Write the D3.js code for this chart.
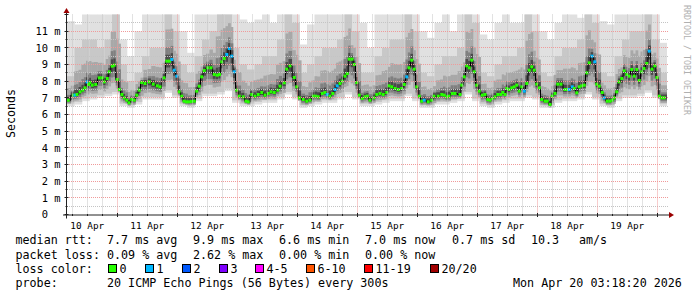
<!DOCTYPE html>
<html>
<head>
<meta charset="utf-8">
<script src="https://cdn.jsdelivr.net/npm/d3@7"></script>
<style>
    html, body { margin: 0; padding: 0; background: #fff; }
    svg { display: block; }
    text { font-family: "DejaVu Sans Mono", monospace; fill: #000; }
</style>
</head>
<body>
<div id="chart"></div>
<script>
/* data */

// median rtt samples: hours since start, ms, lost pings (of 20)
var medHours = [
    0.5, 2.5, 3.2, 4.0, 5.2, 6.3, 7.2, 8.0, 8.6, 9.2, 10.1, 11.5, 12.9, 14.1, 14.9, 16.1, 16.9, 18.1, 18.9, 20.1,
    20.9, 22.0, 22.9, 23.9, 24.8, 25.9, 26.9, 27.9, 28.9, 29.9, 31.2, 32.9, 34.5, 36.1, 37.2, 38.8, 39.9, 41.0, 41.9, 42.9,
    43.9, 44.8, 45.9, 46.8, 47.8, 48.8, 49.8, 50.9, 51.9, 52.9, 53.9, 54.9, 56.3, 57.6, 58.9, 60.1, 61.0, 61.9, 62.9, 63.9,
    64.9, 65.9, 66.9, 67.9, 68.9, 70.5, 71.6, 72.5, 73.9, 75.2, 76.5, 77.9, 79.2, 80.5, 81.6, 82.9, 84.3, 85.2, 86.9, 87.9,
    89.2, 90.9, 91.9, 92.9, 94.5, 95.9, 97.2, 98.5, 99.5, 100.5, 102.1, 103.2, 104.1, 105.2, 106.3, 107.2, 108.1, 109.2, 110.1, 111.2,
    112.1, 112.9, 114.0, 114.9, 115.9, 116.9, 118.1, 119.2, 120.1, 121.2, 122.8, 123.9, 125.2, 126.5, 127.9, 128.8, 129.9, 131.2, 132.5, 133.9,
    134.9, 135.9, 136.8, 137.9, 138.9, 139.9, 140.9, 141.9, 142.9, 144.5, 145.9, 146.8, 148.5, 149.9, 150.9, 151.9, 152.8, 154.1, 155.2, 157.2,
    157.9, 158.9, 159.9, 160.9, 161.9, 162.9, 163.9, 164.9, 166.1, 167.2, 168.3, 169.2, 170.1, 171.2, 172.3, 173.5, 174.3, 175.2, 175.9, 176.8,
    177.9, 178.9, 179.9, 180.9, 181.9, 182.9, 183.9, 184.9, 185.9, 186.9, 187.9, 188.9, 189.9, 191.2, 192.1, 193.2, 194.1, 195.2, 196.3, 197.6,
    199.2, 200.1, 200.9, 202.1, 202.9, 203.9, 204.9, 205.9, 206.9, 207.9, 208.9, 210.0, 211.1, 211.9, 212.9, 214.1, 214.9, 216.1, 217.2, 218.1,
    218.9, 219.9, 220.8, 221.9, 222.9, 223.9, 224.9, 225.9, 226.9, 227.9, 228.9, 229.9, 230.8, 231.9, 232.9, 234.0, 235.1, 236.0, 236.9, 237.9,
    238.9
];
var medRtt = [
    6.86, 7.16, 7.16, 7.20, 7.36, 7.46, 7.60, 7.95, 7.80, 7.92, 7.76, 7.80, 8.20, 8.20, 7.96, 8.16, 8.56, 8.90, 8.96, 8.10,
    7.50, 7.20, 7.00, 6.86, 6.70, 6.90, 6.86, 7.16, 7.46, 7.92, 7.86, 7.96, 7.82, 7.72, 7.66, 8.20, 9.20, 9.20, 9.30, 8.66,
    8.30, 7.36, 7.10, 6.80, 6.76, 6.76, 6.78, 6.80, 7.40, 7.70, 8.26, 8.64, 8.80, 8.80, 8.40, 8.36, 8.40, 9.16, 9.36, 9.60,
    9.96, 9.50, 8.56, 7.46, 7.10, 7.06, 6.80, 6.76, 7.20, 7.10, 7.20, 7.32, 7.16, 7.26, 7.36, 7.32, 7.46, 7.70, 7.90, 8.72,
    8.92, 8.22, 7.66, 7.00, 6.90, 6.80, 6.86, 7.10, 7.10, 7.06, 7.26, 7.32, 7.20, 7.10, 7.26, 7.50, 7.72, 7.86, 8.00, 8.30,
    8.46, 9.32, 9.32, 9.00, 7.92, 7.16, 6.96, 7.06, 7.10, 6.86, 7.00, 7.20, 7.26, 7.20, 7.32, 7.72, 7.66, 7.56, 7.50, 7.56,
    7.80, 8.26, 8.80, 9.26, 8.72, 7.66, 7.10, 6.80, 6.86, 6.76, 6.86, 7.10, 7.10, 7.20, 7.16, 7.06, 7.10, 7.26, 7.26, 7.20,
    7.76, 8.26, 8.92, 8.80, 9.26, 8.56, 7.76, 7.40, 7.16, 7.20, 6.90, 6.86, 6.96, 7.06, 7.20, 7.20, 7.32, 7.20, 7.56, 7.50,
    7.60, 7.66, 7.76, 7.40, 7.66, 7.40, 7.86, 8.66, 8.86, 8.66, 7.82, 7.60, 6.90, 6.80, 6.80, 6.60, 7.10, 7.26, 7.82, 7.82,
    7.50, 7.50, 7.50, 7.66, 7.56, 7.30, 7.66, 7.72, 7.76, 8.50, 9.10, 9.50, 9.16, 7.82, 7.70, 7.32, 7.00, 6.80, 6.80, 6.86,
    7.00, 7.36, 7.96, 8.16, 8.62, 8.40, 8.30, 8.70, 8.30, 8.70, 8.04, 8.56, 8.76, 9.06, 9.80, 8.72, 8.92, 8.22, 7.10, 7.00,
    7.00
];
var medLoss = [
    0, 0, 1, 0, 0, 0, 0, 1, 0, 0, 0, 0, 0, 0, 0, 0, 0, 0, 0, 0,
    0, 0, 0, 0, 0, 0, 0, 0, 0, 0, 0, 0, 0, 0, 0, 0, 0, 0, 1, 1,
    1, 0, 0, 0, 0, 0, 0, 0, 0, 0, 0, 0, 0, 0, 0, 0, 0, 0, 0, 1,
    1, 1, 1, 0, 0, 0, 0, 0, 0, 0, 0, 0, 0, 0, 0, 0, 0, 0, 0, 0,
    0, 0, 0, 0, 0, 0, 0, 0, 0, 0, 0, 0, 1, 0, 0, 1, 1, 0, 0, 0,
    0, 0, 0, 0, 0, 0, 0, 0, 0, 0, 0, 0, 0, 0, 0, 0, 0, 0, 0, 0,
    0, 1, 0, 0, 0, 0, 0, 0, 1, 0, 0, 0, 0, 0, 0, 0, 0, 0, 0, 0,
    0, 0, 0, 0, 0, 0, 0, 0, 0, 0, 0, 0, 0, 0, 0, 0, 0, 0, 0, 0,
    0, 0, 0, 0, 0, 1, 0, 0, 0, 0, 0, 0, 0, 0, 0, 0, 0, 0, 0, 0,
    0, 0, 1, 1, 0, 0, 0, 0, 0, 0, 0, 1, 1, 0, 0, 0, 1, 0, 0, 0,
    0, 0, 0, 0, 0, 0, 0, 0, 0, 0, 0, 0, 0, 0, 1, 0, 0, 0, 0, 0,
    0
];

// smoke per 3 hour column (ms): lowest ping, upper edge of the darker smoke, highest ping
var smokeMin = [
    6.5, 6.6, 6.8, 6.9, 7.0, 7.1, 7.2, 6.5, 6.4, 6.6, 6.9, 6.9, 6.9, 7.3, 7.0, 6.5, 6.4, 6.8, 7.1, 7.1,
    7.2, 7.4, 6.7, 6.5, 6.5, 6.6, 6.7, 6.7, 6.9, 7.2, 6.9, 6.4, 6.5, 6.6, 6.7, 6.7, 6.9, 7.2, 6.9, 6.5,
    6.5, 6.6, 6.7, 6.8, 6.8, 7.1, 6.8, 6.4, 6.4, 6.6, 6.6, 6.7, 6.8, 7.2, 6.8, 6.5, 6.4, 6.6, 6.7, 6.8,
    6.8, 7.0, 6.9, 6.4, 6.4, 6.7, 6.8, 6.8, 6.9, 7.2, 6.9, 6.5, 6.4, 6.8, 7.0, 7.0, 7.1, 7.3, 7.0, 6.5
];
var smokeMid = [
    8.3, 10, 10.5, 10.5, 10, 10.5, 13, 9, 8, 8.5, 9.5, 10, 10, 13, 11, 9, 8.5, 9.5, 10.5, 11,
    13, 13, 10, 9, 8.7, 9, 9.5, 9.5, 10.5, 13, 11.5, 8.5, 9, 9.5, 10, 10, 10.5, 13, 11, 8.5,
    8.5, 9.5, 10, 10.5, 10.5, 13, 11, 8.5, 8.3, 9, 9.5, 9.5, 10, 13, 11.5, 8.5, 8.3, 9, 9.5, 9.5,
    10, 13, 11, 8.5, 8.3, 9.5, 10, 10, 10.5, 13, 11.5, 8.5, 8.3, 9.5, 10.5, 11, 11, 13, 10.5, 8.5
];
var smokeMax = [
    11.6, 11.4, 12.5, 12.5, 12.5, 12.5, 12.5, 10.5, 9.5, 11, 12.5, 12.5, 12.5, 12.5, 12.5, 11, 9.7, 12.5, 12.5, 12.5,
    12.5, 12.5, 12.5, 11.7, 11.5, 11.7, 12.5, 11.5, 12.5, 12.5, 12.5, 10.2, 11.4, 12.5, 12.5, 12.5, 12.5, 12.5, 12.5, 11.5,
    10, 12.5, 12.5, 12.5, 12.5, 12.5, 12.5, 11, 10.6, 11.5, 12.5, 11, 12.5, 12.5, 12.5, 10.8, 10.5, 11.5, 12.5, 11.5,
    11.5, 12.5, 12.5, 11, 10.5, 11.5, 12.5, 12.5, 11.8, 12.5, 12.5, 11.6, 11.4, 12.5, 12.5, 12.5, 12.5, 12.5, 12.5, 10.3
];

var startTime = new Date(2026, 3, 10, 3, 53);
var spanHours = 240;
var smokeColHours = 3;

var yTickValues = [0, 1, 2, 3, 4, 5, 6, 7, 8, 9, 10, 11];
var yTickLabels = ['0  ', '1 m', '2 m', '3 m', '4 m', '5 m', '6 m', '7 m', '8 m', '9 m', '10 m', '11 m'];

var lossLabels = ['0', '1', '2', '3', '4-5', '6-10', '11-19', '20/20'];
var lossColors = ['#26ff00', '#00b8ff', '#0059ff', '#7e00ff', '#ff00ff', '#ff5500', '#ff0000', '#a10000'];

var rttStats = ['7.7 ms avg', '9.9 ms max', '6.6 ms min', '7.0 ms now', '0.7 ms sd', '10.3', 'am/s'];
var lossStats = ['0.09 % avg', '2.62 % max', '0.00 % min', '0.00 % now'];
var probeText = '20 ICMP Echo Pings (56 Bytes) every 300s';
var stampText = 'Mon Apr 20 03:18:20 2026';

(function smokePingChart() {
    'use strict';

    var W = 697, H = 297;
    var left = 67, right = 667, top = 14.5, bottom = 214.5;

    var svg = d3.select('#chart').append('svg')
        .attr('width', W)
        .attr('height', H)
    ;
    svg.append('rect').attr('width', W).attr('height', H).attr('fill', '#fff');

    /* scales */

    var endTime = d3.timeHour.offset(startTime, spanHours);
    var x = d3.scaleTime().domain([startTime, endTime]).range([left, right]);
    var y = d3.scaleLinear().domain([0, 12]).range([bottom, top]);

    function hx(h) {
        return x(new Date(startTime.getTime() + h * 36e5));
    }
    function crisp(v) {
        return Math.round(v - 0.5) + 0.5;
    }

    svg.append('defs').append('clipPath').attr('id', 'plotClip')
        .append('rect')
        .attr('x', left).attr('y', top)
        .attr('width', right - left).attr('height', bottom - top)
    ;

    var plot = svg.append('g').attr('clip-path', 'url(#plotClip)');

    function band(x0, x1, lo, hi, color) {
        plot.append('rect')
            .attr('x', x0)
            .attr('width', Math.max(0, x1 - x0) + 0.3)
            .attr('y', y(hi))
            .attr('height', Math.max(0, y(lo) - y(hi)))
            .attr('fill', color)
        ;
    }

    /* --- smoke, whole columns */

    smokeMax.forEach(function (hi, i) {
        var x0 = hx(i * smokeColHours);
        var x1 = hx((i + 1) * smokeColHours);
        var lo = smokeMin[i];
        band(x0, x1, lo, hi, '#e0e0e0');
        band(x0, x1, lo + 0.15, smokeMid[i], '#c8c8c8');
    });

    /* --- smoke, dense part around each median sample */

    medHours.forEach(function (h, i) {
        var xa = i === 0 ? left : (hx(medHours[i - 1]) + hx(h)) / 2;
        var xb = i === medHours.length - 1 ? right : (hx(h) + hx(medHours[i + 1])) / 2;
        var c = Math.min(smokeMin.length - 1, Math.floor(h / smokeColHours));
        var m = medRtt[i];
        var lo = Math.min(smokeMin[c], m - 0.3);
        var mid = Math.max(smokeMid[c], m + 0.5);
        band(xa, xb, m - 0.6 * (m - lo), m + 0.5 * (mid - m), '#a8a8a8');
        band(xa, xb, m - 0.4 * (m - lo), m + 0.22 * (mid - m), '#808080');
        band(xa, xb, m - 0.2 * (m - lo), m + 0.08 * (mid - m) + 0.08, '#4a4a4a');
    });

    /* grid */

    var grid = svg.append('g').attr('fill', 'none').attr('stroke-width', 1).attr('stroke-dasharray', '1,1');

    // --- minor
    d3.range(0.5, 12, 0.5).filter(function (v) { return v % 1 !== 0; }).forEach(function (v) {
        grid.append('line')
            .attr('x1', left).attr('x2', right + 2)
            .attr('y1', crisp(y(v))).attr('y2', crisp(y(v)))
            .attr('stroke', '#c4c4c4')
        ;
    });
    d3.timeHour.every(6).range(startTime, endTime).filter(function (d) { return d.getHours() !== 0; })
        .forEach(function (d) {
            grid.append('line')
                .attr('x1', crisp(x(d))).attr('x2', crisp(x(d)))
                .attr('y1', top).attr('y2', bottom)
                .attr('stroke', '#c4c4c4')
            ;
        });

    // --- major
    d3.range(1, 12).forEach(function (v) {
        grid.append('line')
            .attr('x1', left).attr('x2', right + 2)
            .attr('y1', crisp(y(v))).attr('y2', crisp(y(v)))
            .attr('stroke', '#f09a9a')
        ;
    });
    d3.timeDay.range(startTime, endTime).forEach(function (d) {
        grid.append('line')
            .attr('x1', crisp(x(d))).attr('x2', crisp(x(d)))
            .attr('y1', top).attr('y2', bottom)
            .attr('stroke', '#f09a9a')
        ;
    });

    /* median line */

    var medLine = d3.line()
        .x(function (d) { return hx(d[0]); })
        .y(function (d) { return y(d[1]); })
        .curve(d3.curveStep)
    ;
    var medPoints = medHours.map(function (h, i) { return [h, medRtt[i]]; });

    plot.append('path')
        .attr('d', medLine(medPoints))
        .attr('fill', 'none')
        .attr('stroke', '#000')
        .attr('stroke-width', 1)
    ;

    plot.selectAll('rect.med')
        .data(medPoints)
        .enter()
        .append('rect')
        .attr('class', 'med')
        .attr('x', function (d) { return hx(d[0]) - 1.5; })
        .attr('y', function (d) { return y(d[1]) - 1.5; })
        .attr('width', 3)
        .attr('height', 3)
        .attr('fill', function (d, i) { return lossColors[medLoss[i]]; })
    ;

    /* axes */

    var axis = svg.append('g').attr('stroke', '#222').attr('stroke-width', 1).attr('fill', 'none');

    // --- y axis line and ticks
    axis.append('line').attr('x1', left - 0.5).attr('x2', left - 0.5).attr('y1', 12).attr('y2', bottom + 4);
    d3.range(0, 12.01, 0.5).forEach(function (v) {
        var len = v % 1 === 0 ? 2 : 1;
        axis.append('line')
            .attr('x1', left - 0.5 - len).attr('x2', left - 0.5 + len)
            .attr('y1', crisp(y(v))).attr('y2', crisp(y(v)))
        ;
    });

    // --- x axis line and ticks
    axis.append('line').attr('x1', left - 4).attr('x2', right + 3).attr('y1', bottom + 0.5).attr('y2', bottom + 0.5);
    d3.timeHour.every(6).range(startTime, endTime).forEach(function (d) {
        var len = d.getHours() === 0 ? 2 : 1;
        axis.append('line')
            .attr('x1', crisp(x(d))).attr('x2', crisp(x(d)))
            .attr('y1', bottom + 0.5 - len).attr('y2', bottom + 0.5 + len)
        ;
    });

    // --- arrows
    svg.append('path')
        .attr('d', 'M' + (left - 3.5) + ',13L' + (left + 2.5) + ',13L' + (left - 0.5) + ',8Z')
        .attr('fill', '#9a0000')
    ;
    svg.append('path')
        .attr('d', 'M' + (right + 2) + ',' + (bottom - 2.5) + 'L' + (right + 2) + ',' + (bottom + 3.5) + 'L' + (right + 7) + ',' + (bottom + 0.5) + 'Z')
        .attr('fill', '#9a0000')
    ;

    /* tick labels */

    svg.selectAll('text.ytick')
        .data(yTickValues)
        .enter()
        .append('text')
        .attr('class', 'ytick')
        .attr('x', 60.5)
        .attr('y', function (d) { return y(d); })
        .attr('dy', '0.36em')
        .attr('text-anchor', 'end')
        .attr('xml:space', 'preserve')
        .style('font-size', '10.4px')
        .text(function (d, i) { return yTickLabels[i]; })
    ;

    var noons = d3.timeDay.range(d3.timeDay.floor(startTime), endTime)
        .map(function (d) { return d3.timeHour.offset(d, 12); })
        .filter(function (d) { return d > startTime && d < endTime; });

    svg.selectAll('text.xtick')
        .data(noons)
        .enter()
        .append('text')
        .attr('class', 'xtick')
        .attr('x', function (d) { return x(d); })
        .attr('y', 228.5)
        .attr('text-anchor', 'middle')
        .style('font-size', '9.4px')
        .text(d3.timeFormat('%d %b'))
    ;

    svg.append('text')
        .attr('transform', 'translate(15,113.5) rotate(-90)')
        .attr('text-anchor', 'middle')
        .style('font-size', '11.6px')
        .text('Seconds')
    ;

    svg.append('text')
        .attr('transform', 'translate(684,60) rotate(90)')
        .attr('text-anchor', 'middle')
        .style('font-size', '8.3px')
        .style('fill', '#b0b0b0')
        .text('RRDTOOL / TOBI OETIKER')
    ;

    /* legend rows */

    var legend = svg.append('g').style('font-size', '11.7px');
    var rowY = [244.3, 258.5, 272.5, 286.7];
    var statX = [107, 193, 279, 365, 452, 531, 579];

    function label(xPos, yPos, str) {
        legend.append('text').attr('x', xPos).attr('y', yPos).attr('xml:space', 'preserve').text(str);
    }

    label(15.5, rowY[0], 'median rtt:');
    rttStats.forEach(function (s, i) { label(statX[i], rowY[0], s); });

    label(15.5, rowY[1], 'packet loss:');
    lossStats.forEach(function (s, i) { label(statX[i], rowY[1], s); });

    label(15.5, rowY[2], 'loss color:');
    var boxX = [108.5, 145.5, 182.5, 219.5, 255.5, 306.5, 364.5, 430.5];
    lossLabels.forEach(function (s, i) {
        legend.append('rect')
            .attr('x', boxX[i]).attr('y', 264.5)
            .attr('width', 8).attr('height', 8)
            .attr('fill', lossColors[i])
            .attr('stroke', '#000')
            .attr('stroke-width', 1)
        ;
        label(boxX[i] + 11, rowY[2], s);
    });

    label(15.5, rowY[3], 'probe:');
    label(107, rowY[3], probeText);
    label(513, rowY[3], stampText);
})();
</script>
</body>
</html>
